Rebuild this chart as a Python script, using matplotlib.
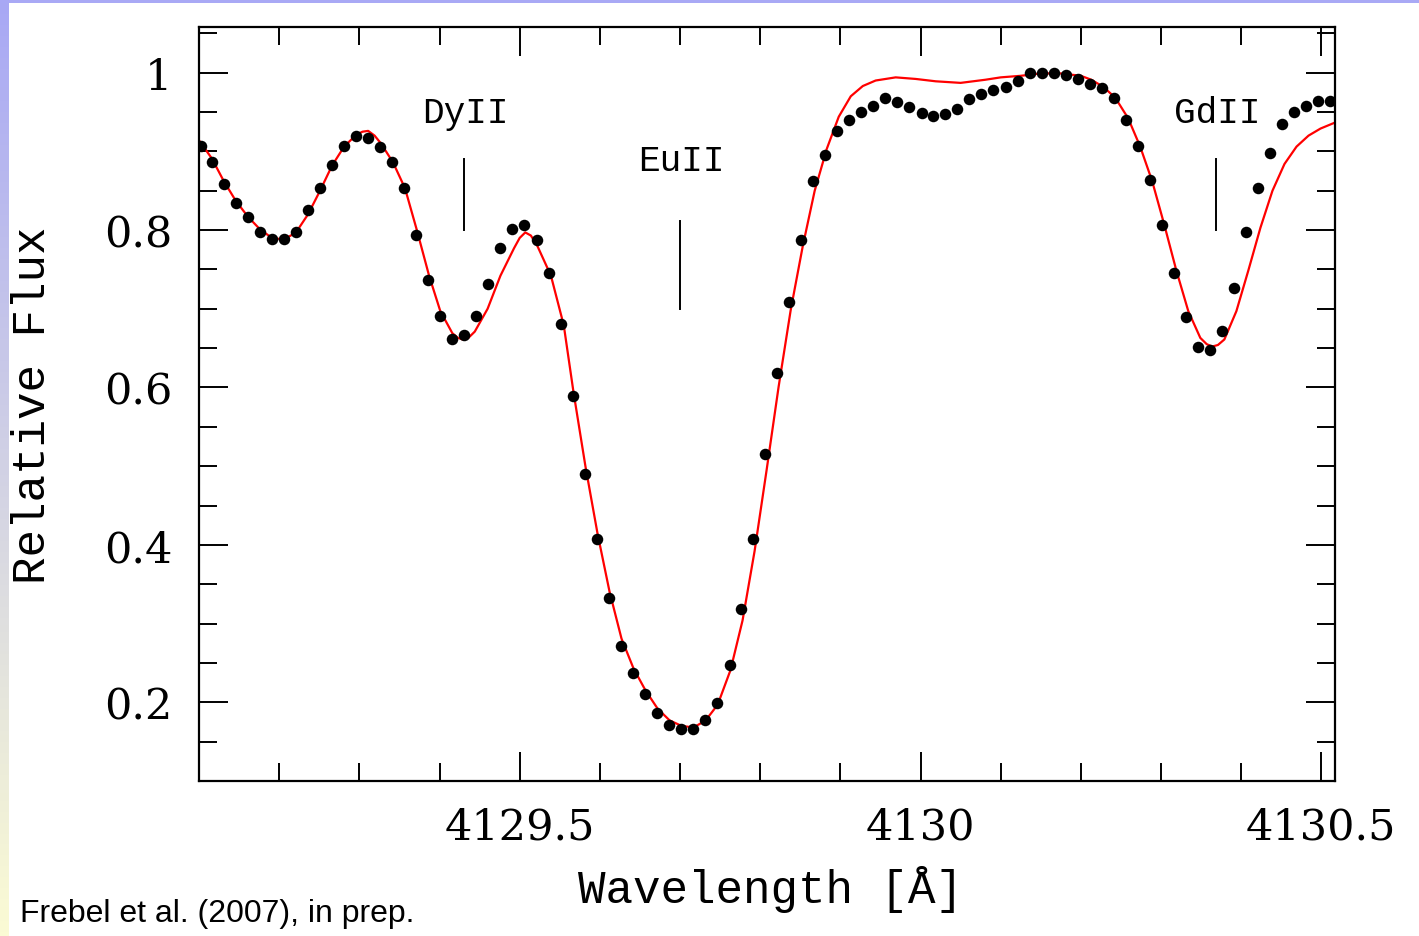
import matplotlib

matplotlib.use("Agg")
import matplotlib.pyplot as plt
import numpy as np
from matplotlib.patches import Rectangle
from matplotlib.ticker import MultipleLocator, FixedLocator

# observed spectrum (black dots)
obs_wave = [
    4129.102, 4129.116, 4129.131, 4129.146, 4129.161, 4129.176, 4129.191, 4129.206,
    4129.221, 4129.236, 4129.251, 4129.266, 4129.281, 4129.296, 4129.311, 4129.326,
    4129.341, 4129.356, 4129.371, 4129.386, 4129.401, 4129.416, 4129.431, 4129.446,
    4129.461, 4129.476, 4129.491, 4129.506, 4129.521, 4129.536, 4129.551, 4129.566,
    4129.581, 4129.596, 4129.611, 4129.626, 4129.641, 4129.656, 4129.671, 4129.686,
    4129.701, 4129.716, 4129.731, 4129.746, 4129.762, 4129.776, 4129.791, 4129.806,
    4129.821, 4129.836, 4129.851, 4129.866, 4129.881, 4129.896, 4129.911, 4129.926,
    4129.941, 4129.956, 4129.971, 4129.986, 4130.002, 4130.016, 4130.031, 4130.046,
    4130.061, 4130.076, 4130.091, 4130.106, 4130.121, 4130.136, 4130.151, 4130.166,
    4130.181, 4130.196, 4130.211, 4130.226, 4130.241, 4130.256, 4130.271, 4130.286,
    4130.301, 4130.316, 4130.331, 4130.346, 4130.361, 4130.376, 4130.391, 4130.406,
    4130.421, 4130.436, 4130.451, 4130.466, 4130.481, 4130.496, 4130.511,
]
obs_flux = [
    0.907, 0.886, 0.858, 0.835, 0.816, 0.798, 0.789, 0.789,
    0.797, 0.826, 0.854, 0.883, 0.907, 0.919, 0.917, 0.906,
    0.886, 0.854, 0.794, 0.736, 0.691, 0.662, 0.667, 0.691,
    0.731, 0.777, 0.801, 0.807, 0.787, 0.746, 0.681, 0.589,
    0.490, 0.407, 0.332, 0.271, 0.237, 0.210, 0.187, 0.171,
    0.166, 0.166, 0.177, 0.199, 0.247, 0.318, 0.407, 0.515,
    0.619, 0.708, 0.787, 0.862, 0.895, 0.926, 0.940, 0.950,
    0.958, 0.968, 0.963, 0.956, 0.949, 0.945, 0.948, 0.954,
    0.966, 0.973, 0.978, 0.982, 0.990, 0.999, 1.000, 1.000,
    0.997, 0.992, 0.986, 0.981, 0.968, 0.940, 0.907, 0.864,
    0.806, 0.745, 0.690, 0.652, 0.647, 0.672, 0.726, 0.798,
    0.853, 0.898, 0.935, 0.950, 0.958, 0.964, 0.964,
]

# synthetic spectrum (red line)
syn_wave = [
    4129.100, 4129.116, 4129.131, 4129.146, 4129.161, 4129.176, 4129.191, 4129.206,
    4129.221, 4129.236, 4129.251, 4129.266, 4129.281, 4129.296, 4129.304, 4129.311,
    4129.319, 4129.327, 4129.342, 4129.357, 4129.372, 4129.387, 4129.401, 4129.416,
    4129.423, 4129.429, 4129.436, 4129.444, 4129.460, 4129.476, 4129.493, 4129.500,
    4129.507, 4129.514, 4129.522, 4129.539, 4129.555, 4129.567, 4129.582, 4129.597,
    4129.612, 4129.627, 4129.642, 4129.657, 4129.672, 4129.687, 4129.702, 4129.717,
    4129.732, 4129.747, 4129.763, 4129.778, 4129.793, 4129.808, 4129.823, 4129.838,
    4129.853, 4129.868, 4129.883, 4129.898, 4129.913, 4129.928, 4129.944, 4129.969,
    4129.994, 4130.019, 4130.050, 4130.081, 4130.100, 4130.125, 4130.150, 4130.175,
    4130.200, 4130.213, 4130.228, 4130.243, 4130.259, 4130.274, 4130.289, 4130.304,
    4130.319, 4130.334, 4130.349, 4130.357, 4130.364, 4130.371, 4130.379, 4130.394,
    4130.409, 4130.424, 4130.439, 4130.454, 4130.469, 4130.484, 4130.499, 4130.518,
]
syn_flux = [
    0.914, 0.891, 0.862, 0.837, 0.817, 0.801, 0.790, 0.788,
    0.797, 0.820, 0.850, 0.882, 0.906, 0.921, 0.925, 0.926,
    0.920, 0.910, 0.886, 0.853, 0.799, 0.742, 0.697, 0.669,
    0.663, 0.661, 0.663, 0.671, 0.700, 0.742, 0.777, 0.790,
    0.797, 0.793, 0.780, 0.742, 0.679, 0.595, 0.500, 0.415,
    0.341, 0.281, 0.243, 0.215, 0.192, 0.177, 0.170, 0.168,
    0.177, 0.197, 0.241, 0.304, 0.392, 0.495, 0.601, 0.698,
    0.779, 0.850, 0.903, 0.944, 0.970, 0.983, 0.990, 0.994,
    0.992, 0.989, 0.987, 0.991, 0.994, 0.996, 0.999, 0.999,
    0.996, 0.991, 0.982, 0.968, 0.942, 0.906, 0.862, 0.807,
    0.749, 0.697, 0.663, 0.655, 0.652, 0.654, 0.661, 0.697,
    0.749, 0.803, 0.850, 0.884, 0.906, 0.920, 0.929, 0.937,
]

# line identifications: label, wavelength, marker bottom/top, label height
line_ids = ["DyII", "EuII", "GdII"]
line_wave = [4129.430, 4129.700, 4130.368]
mark_lo = [0.800, 0.700, 0.800]
mark_hi = [0.890, 0.811, 0.890]
label_y = [0.950, 0.888, 0.950]

LABEL_FONT = "Liberation Mono"
TICK_FONT = "DejaVu Serif"

fig = plt.figure(figsize=(14.19, 9.37), dpi=100, facecolor="white")

# slide frame: lavender band on top, fading strip down the left edge
fig.add_artist(Rectangle((0, 1 - 4 / 937), 1, 4 / 937, transform=fig.transFigure,
                         facecolor="#a9a9f5", edgecolor="none", zorder=0))
strip = fig.add_axes([0, 0, 9 / 1419, 1], zorder=0)
top_c = np.array([168, 168, 245]) / 255
bot_c = np.array([251, 251, 212]) / 255
t = np.linspace(0, 1, 256)[:, None]
grad = (1 - t) * top_c + t * bot_c
strip.imshow(grad[:, None, :], aspect="auto", extent=[0, 1, 0, 1])
strip.axis("off")

ax = fig.add_axes([199 / 1419, 1 - 782 / 937, (1335 - 199) / 1419, (782 - 28) / 937], zorder=1)

ax.plot(syn_wave, syn_flux, color="#ff0000", linewidth=1.6, zorder=2)
ax.plot(obs_wave, obs_flux, "o", color="black", markersize=8.3, markeredgewidth=0, zorder=3)

for name, w, lo, hi, ly in zip(line_ids, line_wave, mark_lo, mark_hi, label_y):
    ax.plot([w, w], [lo, hi], color="black", linewidth=1.4)
    ax.text(w + 0.002, ly, name, ha="center", va="center", fontsize=26, family=LABEL_FONT)

ax.set_xlim(4129.1, 4130.517)
ax.set_ylim(0.1, 1.058)

ax.xaxis.set_major_locator(FixedLocator([4129.5, 4130.0, 4130.5]))
ax.xaxis.set_minor_locator(MultipleLocator(0.1))
ax.yaxis.set_major_locator(MultipleLocator(0.2))
ax.yaxis.set_minor_locator(MultipleLocator(0.05))
ax.set_xticklabels(["4129.5", "4130", "4130.5"])
ax.set_yticklabels([f"{v:g}" for v in ax.get_yticks()])

ax.tick_params(which="both", direction="in", top=True, right=True, width=1.4, color="black")
ax.tick_params(which="major", length=21)
ax.tick_params(which="minor", length=13)
ax.tick_params(axis="x", which="major", pad=18, labelsize=31)
ax.tick_params(axis="y", which="major", pad=19, labelsize=31)
for lab in ax.get_xticklabels() + ax.get_yticklabels():
    lab.set_family(TICK_FONT)
for s in ax.spines.values():
    s.set_linewidth(1.6)

ax.set_xlabel("Wavelength [Å]", fontsize=33, family=LABEL_FONT, va="center")
ax.xaxis.set_label_coords(0.5035, -0.143)
ax.set_ylabel("Relative Flux", fontsize=33, family=LABEL_FONT, va="center")
ax.yaxis.set_label_coords(-0.146, 0.5)

fig.text(20 / 1419, 1 - 922 / 937, "Frebel et al. (2007), in prep.", fontsize=23,
         family="Liberation Sans", ha="left", va="baseline")

fig.savefig("out.png", dpi=100, facecolor=fig.get_facecolor())
